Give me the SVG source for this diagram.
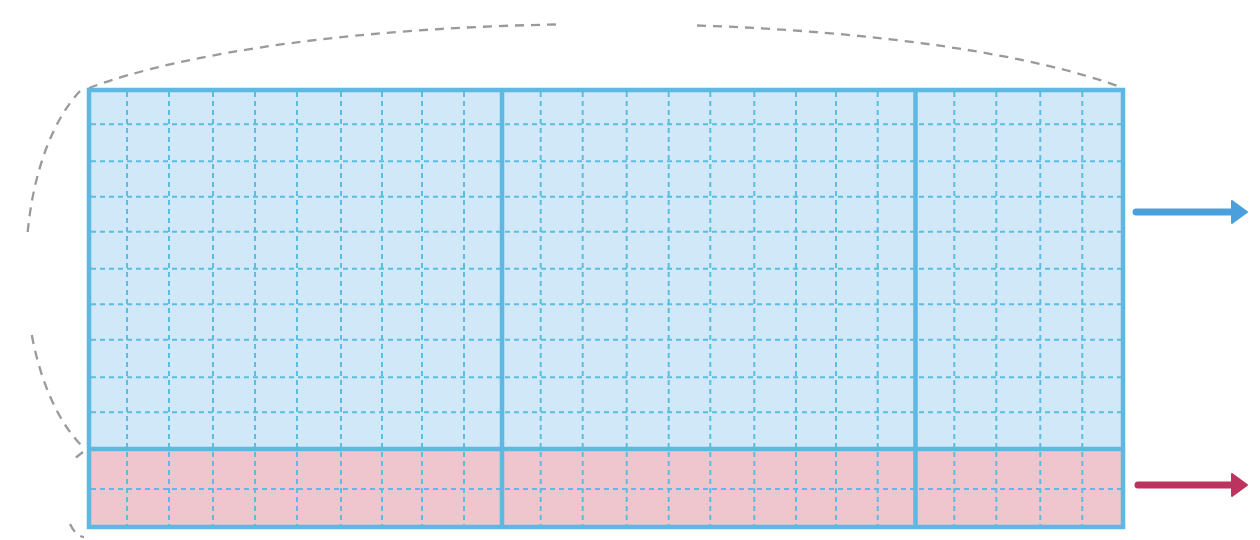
<svg xmlns="http://www.w3.org/2000/svg" width="1260" height="540" viewBox="0 0 1260 540">
  <style>
    .grid { fill: none; stroke: #5bbde2; stroke-width: 2; stroke-dasharray: 5 4; }
    .border { fill: none; stroke: #5db9e1; stroke-width: 4.5; }
    .arc { fill: none; stroke: #9a9a9a; stroke-width: 2.3; stroke-dasharray: 9 7; }
    .arrow { fill: none; stroke-width: 7; stroke-linecap: round; }
  </style>
  <defs>
    <marker id="headBlue" markerUnits="userSpaceOnUse" viewBox="0 0 18 26" refX="3" refY="13" markerWidth="18" markerHeight="26" orient="auto">
      <path d="M1,2 L16,13 L1,24 Z" fill="#4aa0dc" stroke="#4aa0dc" stroke-width="2" stroke-linejoin="round"/>
    </marker>
    <marker id="headPink" markerUnits="userSpaceOnUse" viewBox="0 0 18 26" refX="3" refY="13" markerWidth="18" markerHeight="26" orient="auto">
      <path d="M1,2 L16,13 L1,24 Z" fill="#bc3360" stroke="#bc3360" stroke-width="2" stroke-linejoin="round"/>
    </marker>
  </defs>
  <rect width="1260" height="540" fill="#ffffff"/>

  <g id="blue-region">
    <rect x="89" y="90" width="1034" height="359" fill="#d0e8f8"/>
  </g>
  <g id="pink-region">
    <rect x="89" y="449" width="1034" height="78" fill="#efc6ce"/>
  </g>

  <g id="grid">
    <path class="grid" d="M91,124.3 H1121 M91,161.3 H1121 M91,196.7 H1121 M91,231.7 H1121 M91,268.7 H1121 M91,304.3 H1121 M91,339.7 H1121 M91,377.3 H1121 M91,412.3 H1121 M91,489 H1121"/>
    <path class="grid" d="M127,92 V525 M169,92 V525 M213,92 V525 M255,92 V525 M297,92 V525 M341,92 V525 M382,92 V525 M422,92 V525 M464,92 V525 M540.7,92 V525 M582.7,92 V525 M626.7,92 V525 M668.7,92 V525 M710.3,92 V525 M754.3,92 V525 M796,92 V525 M836,92 V525 M877.7,92 V525 M954.3,92 V525 M996.3,92 V525 M1040.3,92 V525 M1082.3,92 V525"/>
  </g>

  <g id="frame">
    <rect class="border" x="89" y="90" width="1034" height="437"/>
    <path class="border" d="M502,90 V527 M915.5,90 V527 M89,449 H1123"/>
  </g>

  <g id="connectors">
    <path class="arc" d="M89,88 A591,126 0 0 1 562,24.4"/>
    <path class="arc" d="M697,25.5 A591,126 0 0 1 1123,88"/>
    <path class="arc" d="M80,91 A104,202.4 0 0 0 27.7,232"/>
    <path class="arc" d="M31.8,335 A104,202.4 0 0 0 83,447"/>
    <path class="arc" d="M83,452 L74,459"/>
    <path class="arc" d="M70,524 A21,43.5 0 0 0 84,537"/>
    <line class="arrow" x1="1136" y1="212" x2="1234" y2="212" stroke="#4aa0dc" marker-end="url(#headBlue)"/>
    <line class="arrow" x1="1138" y1="485" x2="1234" y2="485" stroke="#bc3360" marker-end="url(#headPink)"/>
  </g>
</svg>
